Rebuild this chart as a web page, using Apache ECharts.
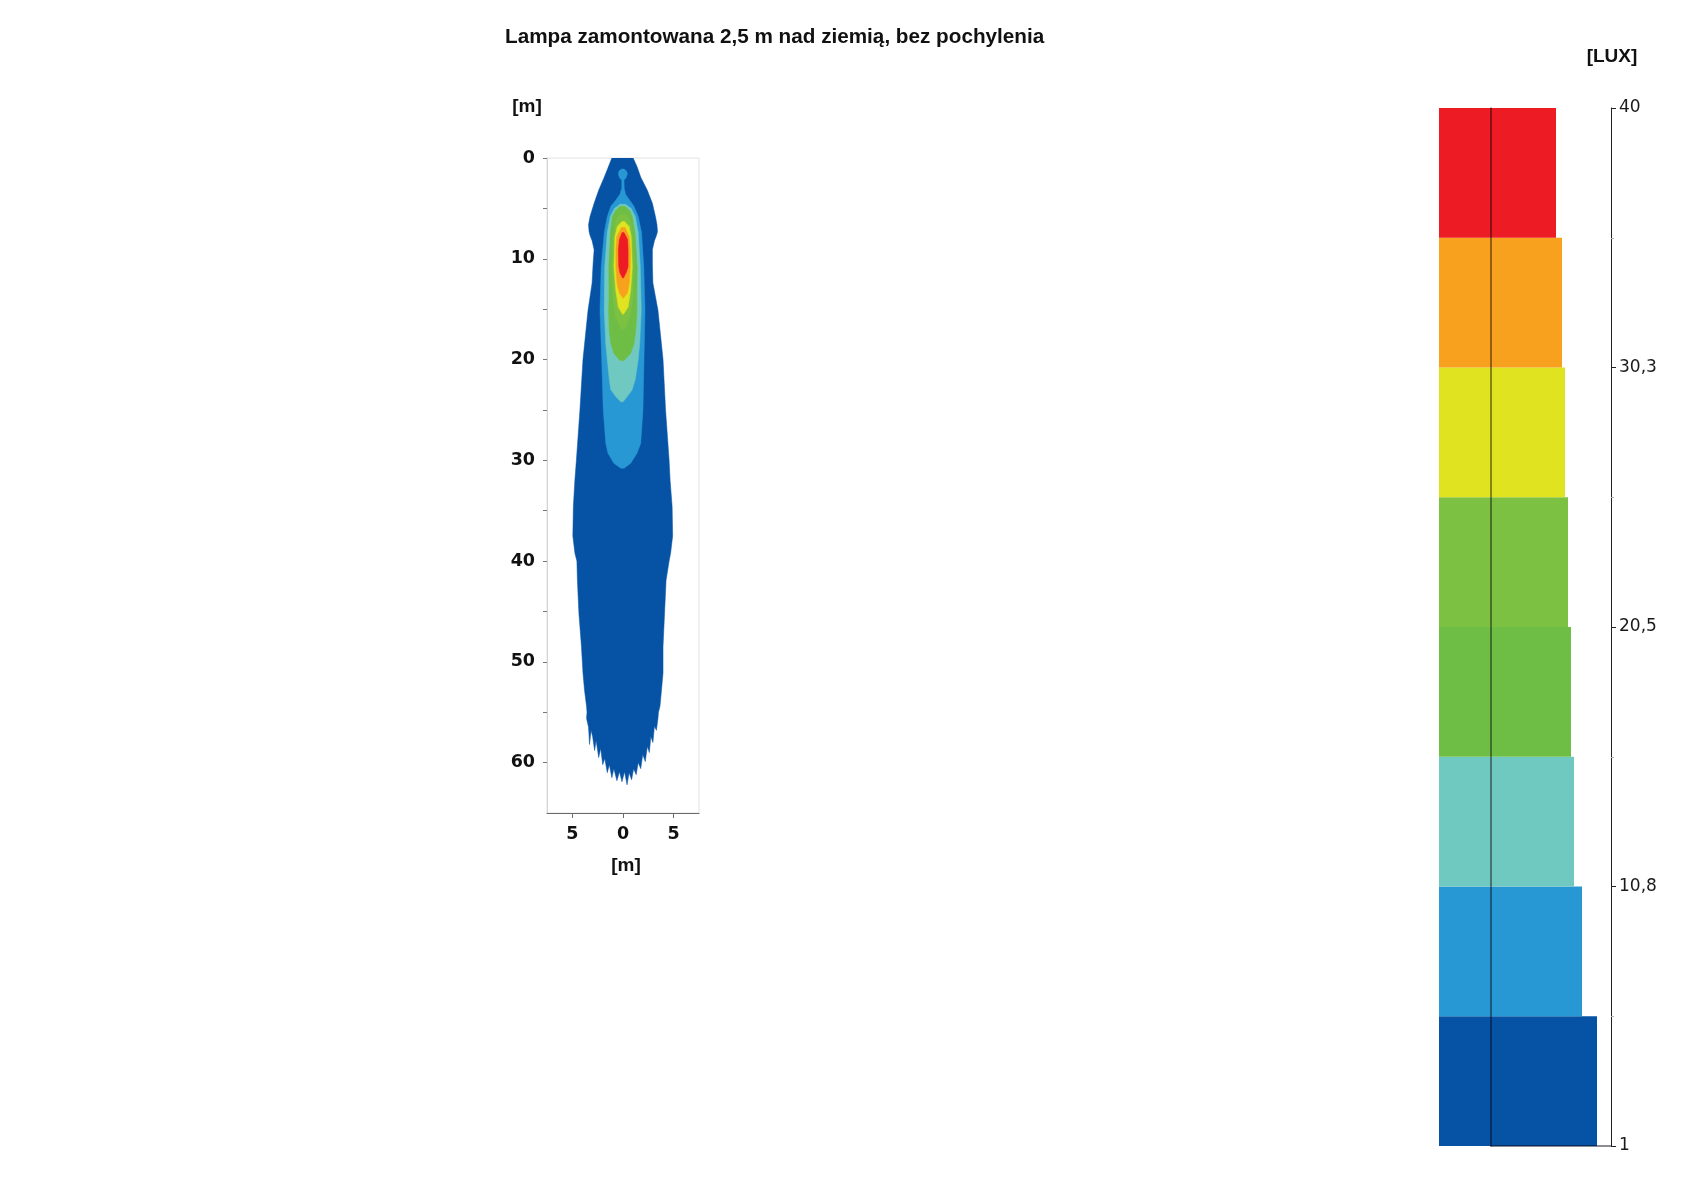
<!DOCTYPE html>
<html>
<head>
<meta charset="utf-8">
<script src="https://cdn.jsdelivr.net/npm/echarts@6/dist/echarts.min.js"></script>
<style>
html,body{margin:0;padding:0;background:#fff;}
#chart{width:1681px;height:1189px;}
</style>
</head>
<body>
<div id="chart"></div>
<script>
// ---------- DATA ----------
const titleText = 'Lampa zamontowana 2,5 m nad ziemią, bez pochylenia';
const unitDistance = '[m]';
const unitLux = '[LUX]';

// contour profiles: [depth y (m), left x (m), right x (m)]
const darkBlueRows = [
  [0.0, -1.1, 1.0], [0.9, -1.45, 1.4], [1.9, -1.85, 1.75], [3.2, -2.4, 2.4],
  [4.5, -2.85, 2.9], [5.8, -3.25, 3.2], [6.6, -3.4, 3.35], [7.3, -3.35, 3.4],
  [7.7, -3.25, 3.3], [8.2, -3.05, 3.1], [9.1, -2.85, 2.9], [10.5, -2.95, 2.9],
  [12.4, -3.05, 2.95], [15.1, -3.45, 3.45], [20.0, -3.95, 3.95], [25.0, -4.25, 4.2],
  [30.0, -4.6, 4.55], [32.0, -4.75, 4.65], [34.6, -4.9, 4.85], [37.5, -4.95, 4.9],
  [39.2, -4.75, 4.7], [40.0, -4.55, 4.55], [41.9, -4.5, 4.25], [45.2, -4.35, 4.1],
  [48.5, -4.1, 3.95], [51.1, -3.95, 3.95], [52.8, -3.8, 3.8], [54.4, -3.6, 3.65],
  [55.0, -3.55, 3.5]
];
// ragged lower edge of the outer zone: [x (m), y (m)], left to right
const darkBlueBottom = [
  [-3.6, 55.6], [-3.4, 56.5], [-3.3, 58.2], [-3.15, 56.8], [-3.0, 57.4], [-2.8, 58.8],
  [-2.65, 57.8], [-2.4, 59.5], [-2.2, 58.6], [-2.0, 60.2], [-1.8, 59.6], [-1.55, 61.0],
  [-1.35, 60.2], [-1.1, 61.5], [-0.9, 60.6], [-0.6, 61.8], [-0.35, 60.9], [-0.1, 61.9],
  [0.15, 60.9], [0.4, 62.2], [0.6, 61.0], [0.85, 61.7], [1.05, 60.6], [1.3, 61.2],
  [1.5, 60.0], [1.75, 60.6], [1.95, 59.2], [2.2, 59.9], [2.4, 58.4], [2.6, 59.0],
  [2.75, 57.4], [2.95, 58.0], [3.1, 56.4], [3.3, 56.8], [3.45, 55.6]
];
const lightBlueRows = [
  [1.1, -0.15, 0.1], [1.3, -0.4, 0.35], [1.6, -0.46, 0.43], [1.95, -0.35, 0.3],
  [2.2, -0.12, 0.1], [3.0, -0.12, 0.12], [3.6, -0.3, 0.25], [4.2, -0.72, 0.66],
  [4.8, -1.2, 1.08], [5.8, -1.55, 1.5], [7.4, -1.85, 1.83], [10.8, -2.15, 2.05],
  [15.1, -2.27, 2.17], [20.0, -2.1, 2.07], [25.0, -1.95, 1.97], [28.3, -1.7, 1.75],
  [29.3, -1.48, 1.38], [30.3, -0.9, 0.76], [30.8, -0.2, 0.1]
];
const tealRows = [
  [4.6, -0.3, 0.25], [5.0, -0.85, 0.8], [5.8, -1.25, 1.2], [7.4, -1.55, 1.5],
  [10.8, -1.8, 1.7], [15.1, -1.85, 1.8], [18.4, -1.7, 1.65], [20.0, -1.55, 1.5],
  [22.0, -1.35, 1.2], [23.0, -1.2, 0.9], [23.7, -0.7, 0.4], [24.2, -0.2, 0.0]
];
const green2Rows = [
  [4.8, -0.3, 0.2], [5.2, -0.72, 0.66], [5.8, -1.05, 0.92], [7.5, -1.25, 1.2],
  [10.8, -1.4, 1.4], [14.0, -1.38, 1.36], [15.1, -1.42, 1.38], [17.1, -1.36, 1.26],
  [18.4, -1.2, 1.1], [19.4, -0.9, 0.75], [20.1, -0.3, 0.1]
];
const green1Rows = [
  [5.6, -0.3, 0.3], [6.2, -0.72, 0.72], [8.0, -0.98, 0.98], [11.0, -1.08, 1.08],
  [14.0, -0.98, 0.98], [15.8, -0.72, 0.68], [17.0, -0.2, 0.2]
];
const yellowRows = [
  [6.3, -0.1, 0.15], [6.8, -0.56, 0.6], [7.8, -0.8, 0.8], [10.8, -0.9, 0.92],
  [13.1, -0.72, 0.76], [14.8, -0.46, 0.5], [15.5, -0.05, 0.05]
];
const orangeRows = [
  [6.9, -0.15, 0.2], [7.8, -0.62, 0.62], [9.1, -0.7, 0.72], [10.8, -0.7, 0.72],
  [12.4, -0.59, 0.62], [13.4, -0.36, 0.43], [13.9, 0.0, 0.05]
];
const redRows = [
  [7.4, -0.1, 0.1], [8.1, -0.36, 0.46], [9.1, -0.46, 0.5], [10.8, -0.42, 0.5],
  [11.4, -0.3, 0.3], [11.9, -0.05, 0.05]
];

// axis ticks of the plot
const yTickValues = [0, 5, 10, 15, 20, 25, 30, 35, 40, 45, 50, 55, 60];
const yLabelValues = [0, 10, 20, 30, 40, 50, 60];
const xTickValues = [-5, 0, 5];
const xTickLabels = ['5', '0', '5'];

// illuminance scale (bottom to top)
const legendLevels = [1, 5.875, 10.75, 15.625, 20.5, 25.375, 30.25, 35.125, 40];
const legendColors = ['#0652a4', '#2898d5', '#70c9c1', '#6ebe45', '#7cc142', '#e0e31f', '#f7a11f', '#ed1c24'];
const legendBarLeft = -52;
const legendBarRight = [106, 91, 83, 80, 77, 74, 71, 65];
const legendTickValues = [1, 10.75, 20.5, 30.25, 40];
const legendTickLabels = ['1', '10,8', '20,5', '30,3', '40'];
const legendMinorTicks = [5.875, 15.625, 25.375, 35.125];

// ---------- BUILD ----------
function rowsToPolygon(rows, bottom) {
  const left = rows.map(r => [r[1], r[0]]);
  const right = rows.slice().reverse().map(r => [r[2], r[0]]);
  return left.concat(bottom || []).concat(right);
}
const contours = [
  {pts: rowsToPolygon(darkBlueRows, darkBlueBottom), color: legendColors[0]},
  {pts: rowsToPolygon(lightBlueRows), color: legendColors[1]},
  {pts: rowsToPolygon(tealRows), color: legendColors[2]},
  {pts: rowsToPolygon(green2Rows), color: legendColors[3]},
  {pts: rowsToPolygon(green1Rows), color: legendColors[4]},
  {pts: rowsToPolygon(yellowRows), color: legendColors[5]},
  {pts: rowsToPolygon(orangeRows), color: legendColors[6]},
  {pts: rowsToPolygon(redRows), color: legendColors[7]}
];

const contourSeries = contours.map((c, i) => ({
  type: 'custom',
  coordinateSystem: 'cartesian2d',
  xAxisIndex: 0, yAxisIndex: 0,
  z: 2 + i,
  silent: true,
  clip: true,
  data: c.pts,
  renderItem: function (params, api) {
    if (params.dataIndex !== 0) return;
    const points = c.pts.map(p => api.coord(p));
    return {
      type: 'polygon',
      shape: {points: points},
      style: {fill: c.color, stroke: c.color, lineWidth: 0.5}
    };
  }
}));

const legendData = legendColors.map((col, i) => [legendBarLeft, legendLevels[i], legendBarRight[i], legendLevels[i + 1], i]);

const legendSeries = {
  type: 'custom',
  coordinateSystem: 'cartesian2d',
  xAxisIndex: 1, yAxisIndex: 1,
  clip: false,
  silent: true,
  z: 2,
  data: legendData,
  renderItem: function (params, api) {
    const tl = api.coord([api.value(0), api.value(3)]);
    const br = api.coord([api.value(2), api.value(1)]);
    return {
      type: 'rect',
      shape: {x: tl[0], y: tl[1], width: br[0] - tl[0], height: br[1] - tl[1]},
      style: {fill: legendColors[api.value(4)]}
    };
  }
};

const labelFont = 'DejaVu Sans, sans-serif';
const textFont = 'Liberation Sans, Arial, sans-serif';

const chart = echarts.init(document.getElementById('chart'));
chart.setOption({
  backgroundColor: '#ffffff',
  animation: false,
  grid: [
    {left: 547, top: 158, width: 152, height: 655, show: true, borderColor: '#e2e2e2', borderWidth: 1, backgroundColor: 'transparent'},
    {left: 1491, top: 108, width: 120, height: 1038, show: false}
  ],
  xAxis: [
    {
      gridIndex: 0, type: 'value', min: -7.5, max: 7.5, position: 'bottom',
      axisLine: {show: true, onZero: false, lineStyle: {color: '#6a6a6a', width: 1}},
      axisTick: {show: true, customValues: xTickValues, length: 5, lineStyle: {color: '#6a6a6a'}},
      axisLabel: {
        show: true, customValues: xTickValues, margin: 12,
        formatter: v => xTickLabels[xTickValues.indexOf(v)],
        fontFamily: labelFont, fontWeight: 'bold', fontSize: 17.5, color: '#111'
      },
      splitLine: {show: false}
    },
    {
      gridIndex: 1, type: 'value', min: 0, max: 120, z: 10, position: 'bottom',
      axisLine: {show: true, onZero: false, lineStyle: {color: 'rgba(0,0,20,0.6)', width: 1.5}},
      axisTick: {show: false}, axisLabel: {show: false}, splitLine: {show: false}
    }
  ],
  yAxis: [
    {
      gridIndex: 0, type: 'value', min: 0, max: 65, inverse: true, position: 'left',
      axisLine: {show: true, onZero: false, lineStyle: {color: '#d4d4d4', width: 1}},
      axisTick: {show: true, customValues: yTickValues, length: 4, lineStyle: {color: '#777'}},
      axisLabel: {
        show: true, customValues: yLabelValues, margin: 12,
        fontFamily: labelFont, fontWeight: 'bold', fontSize: 17.5, color: '#111'
      },
      splitLine: {show: false}
    },
    {
      gridIndex: 1, type: 'value', min: 1, max: 40, position: 'left', z: 10,
      axisLine: {show: true, onZero: false, lineStyle: {color: 'rgba(0,0,0,0.55)', width: 1.5}},
      axisTick: {show: false}, axisLabel: {show: false}, splitLine: {show: false}
    },
    {
      gridIndex: 1, type: 'value', min: 1, max: 40, position: 'right', z: 10,
      axisLine: {show: true, onZero: false, lineStyle: {color: '#222', width: 1}},
      axisTick: {show: true, customValues: legendTickValues, length: 5, lineStyle: {color: '#222'}},
      axisLabel: {
        show: true, customValues: legendTickValues, margin: 8,
        formatter: v => legendTickLabels[legendTickValues.indexOf(v)],
        fontFamily: labelFont, fontSize: 17, color: '#1a1a1a'
      },
      splitLine: {show: false}
    },
    {
      gridIndex: 1, type: 'value', min: 1, max: 40, position: 'right', z: 10,
      axisLine: {show: false, onZero: false},
      axisTick: {show: true, customValues: legendMinorTicks, length: 3, lineStyle: {color: '#b0b0b0'}},
      axisLabel: {show: false}, splitLine: {show: false}
    }
  ],
  graphic: [
    {type: 'text', left: 505, top: 27, style: {text: titleText, font: 'bold 20.7px ' + textFont, fill: '#111'}},
    {type: 'text', x: 527, y: 107, style: {text: unitDistance, font: 'bold 19px ' + textFont, fill: '#111', align: 'center', verticalAlign: 'middle'}},
    {type: 'text', x: 626, y: 866, style: {text: unitDistance, font: 'bold 19px ' + textFont, fill: '#111', align: 'center', verticalAlign: 'middle'}},
    {type: 'text', x: 1612, y: 57, style: {text: unitLux, font: 'bold 19px ' + textFont, fill: '#111', align: 'center', verticalAlign: 'middle'}}
  ],
  series: contourSeries.concat([legendSeries])
});
</script>
</body>
</html>
